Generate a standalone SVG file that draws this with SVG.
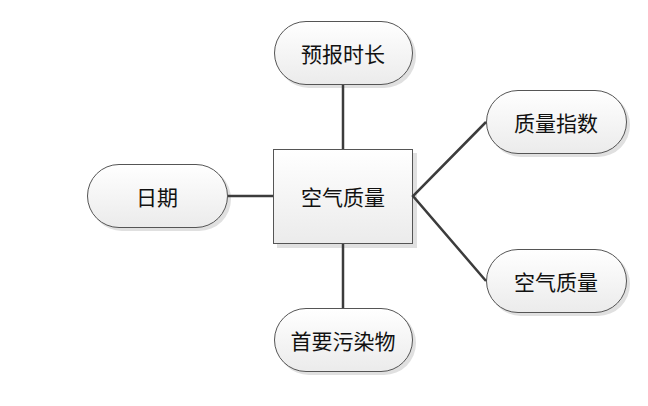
<svg xmlns="http://www.w3.org/2000/svg" width="648" height="406" viewBox="0 0 648 406">
<defs>
<linearGradient id="g" x1="0" y1="0" x2="0" y2="1">
<stop offset="0" stop-color="#ffffff"/>
<stop offset="1" stop-color="#ebebeb"/>
</linearGradient>
<style>
.n{fill:url(#g);stroke:#555;stroke-width:1}
.s{fill:#e0e0e0}
.t{font-family:"Noto Sans CJK SC","Noto Sans",sans-serif;font-size:21px;fill:#111;text-anchor:middle;dominant-baseline:central}
.c{stroke:#3c3c3c;stroke-width:2.5;fill:none}
</style>
</defs>
<rect width="648" height="406" fill="#fff"/>
<g id="center">
<rect class="s" x="277" y="153" width="140" height="95"/>
<rect class="n" x="273.5" y="149.5" width="139" height="94"/>
<text class="t" x="343" y="196">空气质量</text>
</g>
<g id="top">
<rect class="s" x="277" y="24" width="139" height="64" rx="32"/>
<rect class="n" x="274.5" y="21.5" width="138" height="63" rx="31.5"/>
<text class="t" x="343" y="53">预报时长</text>
</g>
<g id="bottom">
<rect class="s" x="277" y="311" width="139" height="64" rx="32"/>
<rect class="n" x="274.5" y="308.5" width="138" height="63" rx="31.5"/>
<text class="t" x="343" y="340">首要污染物</text>
</g>
<g id="left">
<rect class="s" x="90" y="167" width="141" height="64" rx="32"/>
<rect class="n" x="87.5" y="164.5" width="140" height="63" rx="31.5"/>
<text class="t" x="157" y="196">日期</text>
</g>
<g id="rightTop">
<rect class="s" x="489" y="93" width="141" height="64" rx="32"/>
<rect class="n" x="486.5" y="90.5" width="140" height="63" rx="31.5"/>
<text class="t" x="556" y="122">质量指数</text>
</g>
<g id="rightBottom">
<rect class="s" x="489" y="252" width="141" height="64" rx="32"/>
<rect class="n" x="486.5" y="249.5" width="140" height="63" rx="31.5"/>
<text class="t" x="556" y="281">空气质量</text>
</g>
<g id="connectors">
<line class="c" x1="343" y1="85" x2="343" y2="149"/>
<line class="c" x1="343" y1="244" x2="343" y2="308"/>
<line class="c" x1="228" y1="196" x2="273" y2="196"/>
<polyline class="c" points="486,122 413,196 486,281"/>
</g>
</svg>
